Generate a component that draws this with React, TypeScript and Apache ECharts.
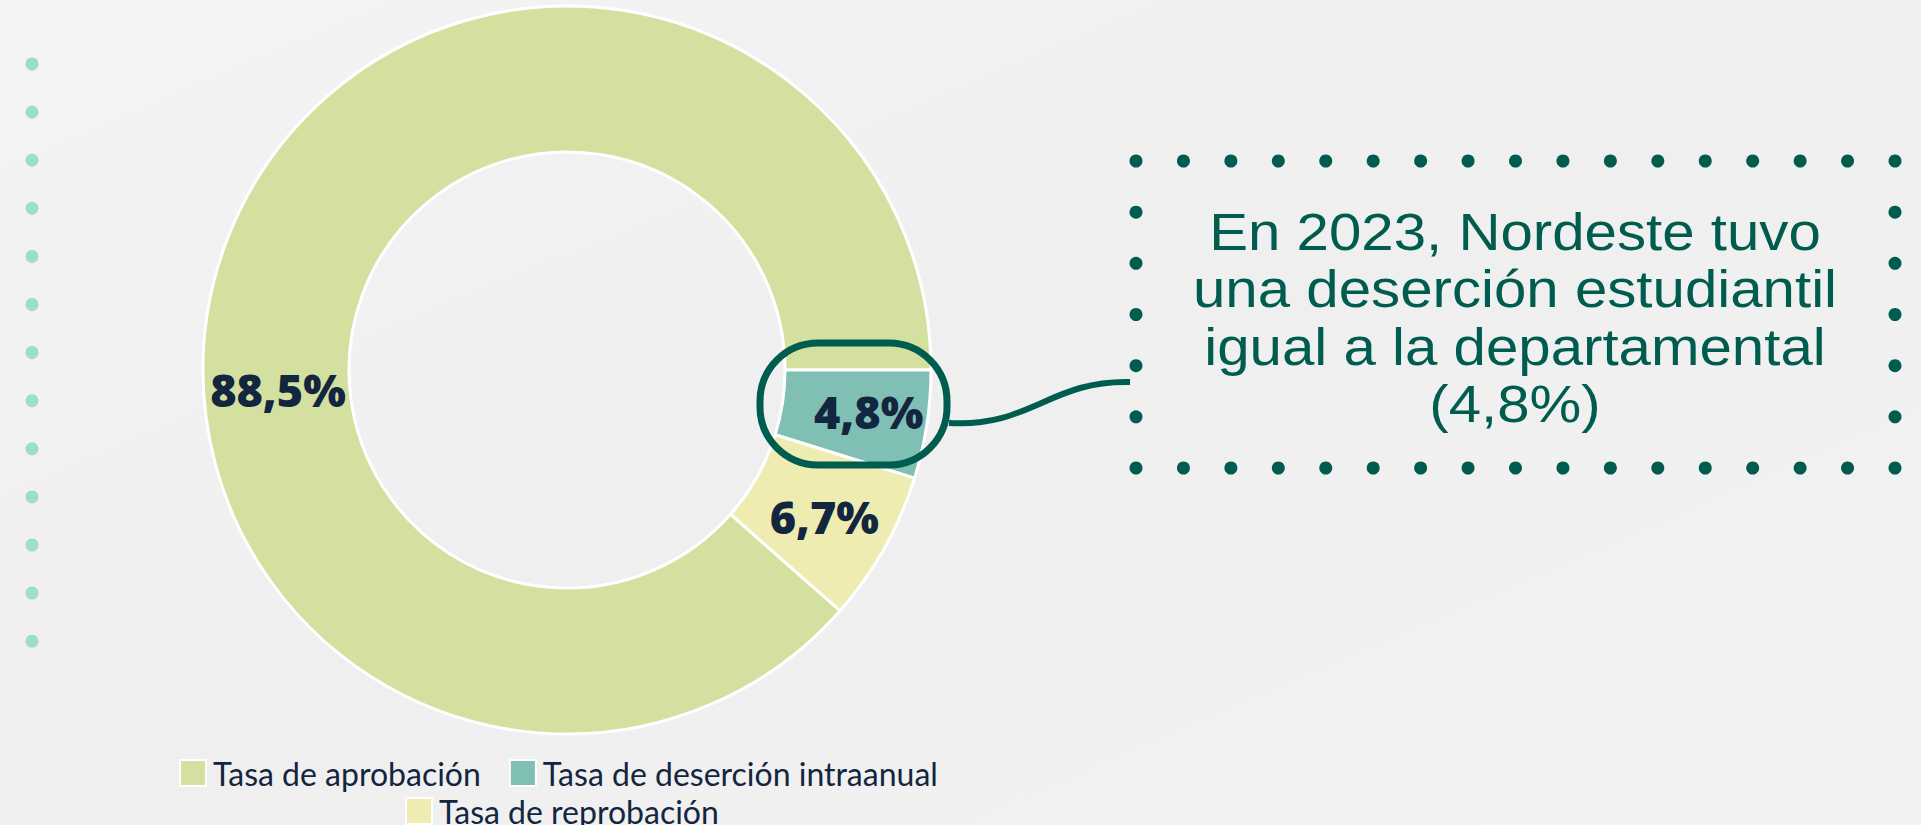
import React, { useEffect, useRef } from "react";
import * as echarts from "echarts";

const categories = ["Tasa de aprobación", "Tasa de deserción intraanual", "Tasa de reprobación"];
const values = [88.5, 4.8, 6.7];
const colors = ["#d4e0a0", "#80c0b4", "#eeecb0"];
const labelOffsets = [[-14, 123], [11, -3], [1, 2]];
const calloutLines = ["En 2023, Nordeste tuvo", "una deserción estudiantil", "igual a la departamental", "(4,8%)"];

export default function App() {
  const ref = useRef<HTMLDivElement>(null);
  useEffect(() => {
    if (!ref.current) return;
    const chart = echarts.init(ref.current, null, { renderer: "svg" });
    const total = values.reduce((a, b) => a + b, 0);
    const startAngle = (360 * values[0]) / total;

    const graphics: any[] = [];
    for (let i = 0; i < 13; i++) {
      graphics.push({ type: "circle", shape: { cx: 32, cy: 64 + i * 48.1, r: 6.5 }, style: { fill: "#9edcd0" }, silent: true });
    }
    const bx0 = 1136, bx1 = 1895, by0 = 161, by1 = 468;
    const dotColor = "#005c4e";
    for (let i = 0; i < 17; i++) {
      const x = bx0 + ((bx1 - bx0) * i) / 16;
      graphics.push({ type: "circle", shape: { cx: x, cy: by0, r: 6.5 }, style: { fill: dotColor }, silent: true });
      graphics.push({ type: "circle", shape: { cx: x, cy: by1, r: 6.5 }, style: { fill: dotColor }, silent: true });
    }
    for (let i = 1; i < 6; i++) {
      const y = by0 + ((by1 - by0) * i) / 6;
      graphics.push({ type: "circle", shape: { cx: bx0, cy: y, r: 6.5 }, style: { fill: dotColor }, silent: true });
      graphics.push({ type: "circle", shape: { cx: bx1, cy: y, r: 6.5 }, style: { fill: dotColor }, silent: true });
    }
    graphics.push({
      type: "text",
      x: 1515,
      y: 318,
      scaleX: 1.12,
      style: {
        text: calloutLines.join("\n"),
        fill: "#005c4e",
        fontFamily: "'Liberation Sans'",
        fontWeight: 400,
        fontSize: 52,
        lineHeight: 57.5,
        align: "center",
        verticalAlign: "middle",
      },
      silent: true,
    });
    graphics.push({
      type: "rect",
      shape: { x: 760, y: 343, width: 187, height: 122, r: 58 },
      style: { fill: "none", stroke: "#005c4e", lineWidth: 7 },
      z: 100,
      silent: true,
    });
    graphics.push({
      type: "bezierCurve",
      shape: { x1: 949, y1: 423, cpx1: 1030, cpy1: 428, cpx2: 1050, cpy2: 380, x2: 1130, y2: 382 },
      style: { fill: "none", stroke: "#005c4e", lineWidth: 6 },
      z: 100,
      silent: true,
    });

    const legendText = { color: "#12263f", fontSize: 32, fontFamily: "Lato", padding: [0, 0, 0, 2] };
    chart.setOption({
      animation: false,
      backgroundColor: {
        type: "linear", x: 0, y: 0, x2: 1, y2: 1,
        colorStops: [
          { offset: 0, color: "#f4f4f4" },
          { offset: 0.5, color: "#efefef" },
          { offset: 1, color: "#f3f3f3" },
        ],
      },
      color: colors,
      legend: [
        {
          data: [categories[0], categories[1]],
          left: 179,
          top: 757,
          padding: 0,
          icon: "rect",
          itemWidth: 26,
          itemHeight: 26,
          itemGap: 28,
          textStyle: legendText,
          selectedMode: false,
        },
        {
          data: [categories[2]],
          left: 405,
          top: 795,
          padding: 0,
          icon: "rect",
          itemWidth: 26,
          itemHeight: 26,
          textStyle: legendText,
          selectedMode: false,
        },
      ],
      graphic: graphics,
      series: [
        {
          type: "pie",
          center: [567, 370],
          radius: [218, 364],
          startAngle,
          clockwise: true,
          silent: true,
          avoidLabelOverlap: false,
          itemStyle: { borderColor: "#ffffff", borderWidth: 3 },
          label: {
            show: true,
            position: "inside",
            color: "#12263f",
            fontFamily: "'Open Sans'",
            fontWeight: 800,
            fontSize: 45,
            formatter: (p: any) => String(p.value).replace(".", ",") + "%",
          },
          labelLine: { show: false },
          emphasis: { disabled: true },
          data: categories.map((name, i) => ({
            name,
            value: values[i],
            label: { offset: labelOffsets[i] },
          })),
        },
      ],
    });
    return () => chart.dispose();
  }, []);
  return <div ref={ref} style={{ position: "fixed", left: 0, top: 0, width: 1921, height: 825 }} />;
}
